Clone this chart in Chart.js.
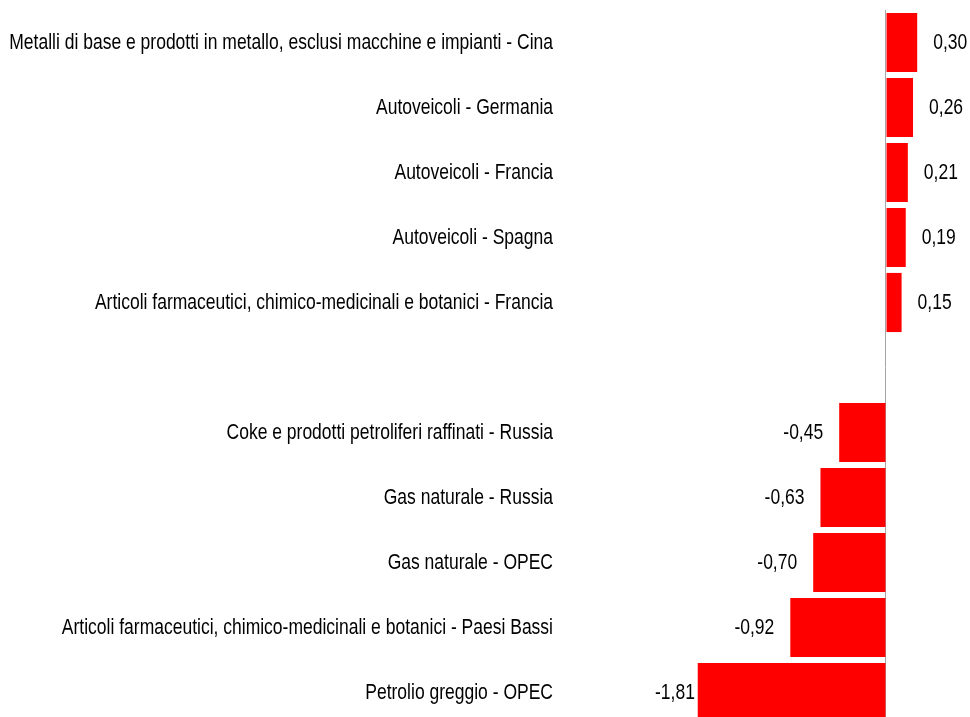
<!DOCTYPE html>
<html>
<head>
<meta charset="utf-8">
<script src="https://cdn.jsdelivr.net/npm/chart.js@4"></script>
<style>
  html, body { margin: 0; padding: 0; background: #fff; overflow: hidden; }
  /* the last row runs past the bottom edge in the reference */
  #wrap { width: 970px; height: 717px; overflow: hidden; }
</style>
</head>
<body>
<div id="wrap"><canvas id="chart" width="970" height="725"></canvas></div>
<script>
const categories = [
  'Metalli di base e prodotti in metallo, esclusi macchine e impianti - Cina',
  'Autoveicoli - Germania',
  'Autoveicoli - Francia',
  'Autoveicoli - Spagna',
  'Articoli farmaceutici, chimico-medicinali e botanici - Francia',
  '',
  'Coke e prodotti petroliferi raffinati - Russia',
  'Gas naturale - Russia',
  'Gas naturale - OPEC',
  'Articoli farmaceutici, chimico-medicinali e botanici - Paesi Bassi',
  'Petrolio greggio - OPEC'
];
const values = [0.30, 0.26, 0.21, 0.19, 0.15, null, -0.45, -0.63, -0.70, -0.92, -1.81];

const fontFamily = '"Liberation Sans", Arial, sans-serif';
const textStretch = 1.25; // the reference text is taller than it is wide

function drawText(ctx, text, x, y, align) {
  ctx.save();
  ctx.translate(x, y);
  ctx.scale(1, textStretch);
  ctx.textAlign = align;
  ctx.textBaseline = 'middle';
  ctx.fillText(text, 0, 0);
  ctx.restore();
}

// category names and the numbers next to the bars
const labelsPlugin = {
  id: 'labelsPlugin',
  afterDatasetsDraw(chart) {
    const ctx = chart.ctx;
    const area = chart.chartArea;
    const yScale = chart.scales.y;
    const meta = chart.getDatasetMeta(0);
    ctx.save();
    ctx.font = '17.5px ' + fontFamily;
    ctx.fillStyle = '#000';

    categories.forEach((name, i) => {
      if (name) drawText(ctx, name, area.left - 102, yScale.getPixelForValue(i), 'right');
    });

    meta.data.forEach((bar, i) => {
      const v = values[i];
      if (v === null) return;
      const text = v.toFixed(2).replace('.', ',');
      const w = ctx.measureText(text).width;
      if (v >= 0) {
        drawText(ctx, text, bar.x + 16, bar.y, 'left');
      } else {
        let x = bar.x - 16;
        if (x - w < area.left) x = area.left + w;
        drawText(ctx, text, x, bar.y, 'right');
      }
    });
    ctx.restore();
  }
};

new Chart(document.getElementById('chart'), {
  type: 'bar',
  data: {
    labels: categories,
    datasets: [{
      data: values,
      backgroundColor: '#ff0000',
      borderWidth: 0,
      barPercentage: 0.91,
      categoryPercentage: 1
    }]
  },
  options: {
    indexAxis: 'y',
    responsive: false,
    animation: false,
    layout: { padding: { top: 10, right: 0, bottom: 0, left: 0 } },
    plugins: {
      legend: { display: false },
      tooltip: { enabled: false }
    },
    scales: {
      x: {
        min: -2.221,
        max: 0.8077,
        z: 1,
        afterBuildTicks(scale) { scale.ticks = [{ value: 0 }]; },
        ticks: { display: false },
        border: { display: false },
        grid: { drawTicks: false, color: '#a6a6a6', lineWidth: 1 }
      },
      y: {
        afterFit(scale) { scale.width = 655; },
        grid: { display: false, drawTicks: false },
        border: { display: false },
        ticks: { display: false }
      }
    }
  },
  plugins: [labelsPlugin]
});
</script>
</body>
</html>
